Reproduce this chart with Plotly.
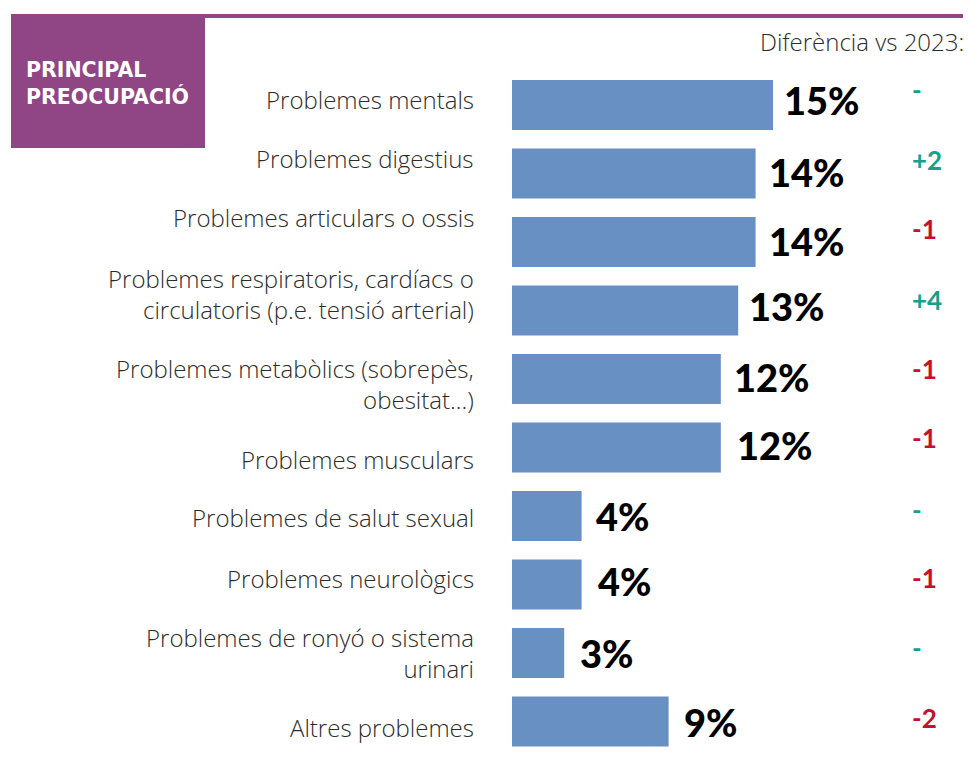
import plotly.graph_objects as go

categories = [
    "Problemes mentals",
    "Problemes digestius",
    "Problemes articulars o ossis",
    "Problemes respiratoris, cardíacs o<br>circulatoris (p.e. tensió arterial)",
    "Problemes metabòlics (sobrepès,<br>obesitat...)",
    "Problemes musculars",
    "Problemes de salut sexual",
    "Problemes neurològics",
    "Problemes de ronyó o sistema<br>urinari",
    "Altres problemes",
]
values = [15, 14, 14, 13, 12, 12, 4, 4, 3, 9]
diffs = ["-", "+2", "-1", "+4", "-1", "-1", "-", "-1", "-", "-2"]

# style
W, H = 968, 778
BAR = "#6890C2"
PURPLE = "#904585"
TEAL = "#16A08C"
RED = "#C8102E"
TXT = "#2b2b2b"
LABEL_FONT = "Open Sans"


def px(x):
    return x / W


def py(y):
    return 1 - y / H


label_yshift = [6, 15.5, 24.5, 17, -4.5, -11.5, -1.5, 6.5, 0, -5.5]
diff_yshift = [15, 13.5, 13.5, 10.5, 10.5, 9.5, 6.5, 6.5, 5, 3.5]
val_yshift = [5, 1.5, 1.5, 4.5, 2.5, 2.5, 0, 3.5, 0, -0.5]
val_xshift = [9, 11, 11, 9, 11, 14, 12, 14, 14, 13]

idx = list(range(len(categories)))

fig = go.Figure(go.Bar(
    x=values, y=idx, orientation="h",
    marker=dict(color=BAR, line=dict(width=0)),
    hoverinfo="skip",
))

ann = []
for i, (c, v, d) in enumerate(zip(categories, values, diffs)):
    ann.append(dict(x=px(476), xref="paper", y=i, yref="y", text=c, showarrow=False,
                    xanchor="right", yanchor="middle", align="right", yshift=label_yshift[i],
                    font=dict(family=LABEL_FONT, size=24, color=TXT, weight=300)))
    ann.append(dict(x=v, xref="x", y=i, yref="y", text=f"{v}%", showarrow=False,
                    xanchor="left", yanchor="middle", xshift=val_xshift[i], yshift=val_yshift[i],
                    font=dict(family="Lato", size=38, color="#000000", weight=900)))
    ann.append(dict(x=px(910), xref="paper", y=i, yref="y", text=d, showarrow=False,
                    xanchor="left", yanchor="middle", yshift=diff_yshift[i],
                    font=dict(family="Lato", size=26, color=TEAL if (d == "-" or d[0] == "+") else RED,
                              weight="bold")))

ann.append(dict(x=px(966), xref="paper", y=py(42), yref="paper", text="Diferència vs 2023:",
                showarrow=False, xanchor="right", yanchor="middle",
                font=dict(family=LABEL_FONT, size=24, color=TXT, weight=300)))
ann.append(dict(x=px(24), xref="paper", y=py(83), yref="paper", text="<b>PRINCIPAL<br>PREOCUPACIÓ</b>",
                showarrow=False, xanchor="left", yanchor="middle", align="left",
                font=dict(family="DejaVu Sans", size=20.5, color="white")))

shapes = [
    dict(type="rect", xref="paper", yref="paper", x0=px(11), x1=px(205), y0=py(148), y1=py(14),
         fillcolor=PURPLE, line=dict(width=0), layer="below"),
    dict(type="rect", xref="paper", yref="paper", x0=px(205), x1=px(963), y0=py(18), y1=py(14),
         fillcolor=PURPLE, line=dict(width=0), layer="below"),
]

pitch = 68.5
top_c = 105
fig.update_layout(
    width=W, height=H,
    margin=dict(l=0, r=0, t=0, b=0),
    paper_bgcolor="white", plot_bgcolor="white",
    showlegend=False,
    bargap=1 - 50 / pitch,
    xaxis=dict(domain=[px(512), 1], range=[0, (W - 512) / 17.4], visible=False, fixedrange=True),
    yaxis=dict(domain=[0, 1], range=[(H - top_c) / pitch, -top_c / pitch], visible=False, fixedrange=True),
    annotations=ann,
    shapes=shapes,
)

fig.write_html("out.html", config={"displayModeBar": False},
               post_script="document.body.style.margin='0';document.body.style.overflow='hidden';")
